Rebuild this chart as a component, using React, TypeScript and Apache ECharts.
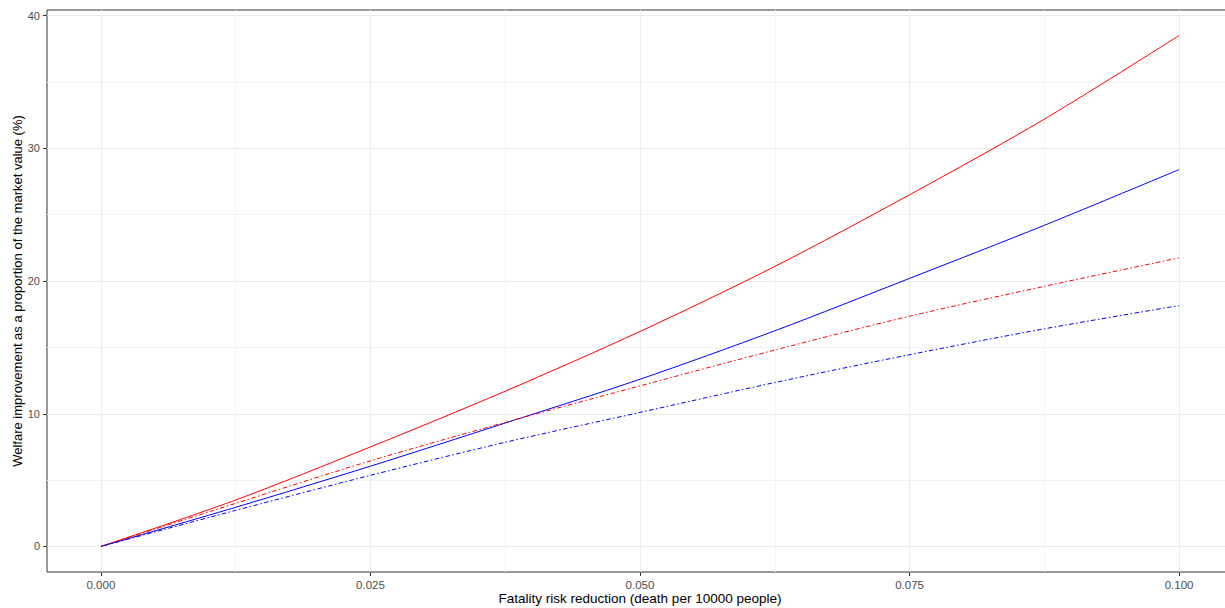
import React, { useEffect, useRef } from "react";
import * as echarts from "echarts";

const xValues = [0, 0.0125, 0.025, 0.0375, 0.05, 0.0625, 0.075, 0.0875, 0.1];
const redSolid = [0, 3.5, 7.5, 11.7, 16.2, 21.1, 26.5, 32.2, 38.5];
const blueSolid = [0, 2.95, 6.05, 9.3, 12.6, 16.25, 20.2, 24.2, 28.4];
const redDashed = [0, 3.25, 6.45, 9.35, 12.1, 14.8, 17.35, 19.6, 21.75];
const blueDashed = [0, 2.72, 5.36, 7.85, 10.1, 12.35, 14.45, 16.4, 18.15];

const xTicks = [0, 0.025, 0.05, 0.075, 0.1];
const xMinorTicks = [0.0125, 0.0375, 0.0625, 0.0875];
const yTicks = [0, 10, 20, 30, 40];
const yMinorTicks = [5, 15, 25, 35];

const xTitle = "Fatality risk reduction (death per 10000 people)";
const yTitle = "Welfare improvement as a proportion of the market value (%)";

const FONT = "'Liberation Sans', Arial, sans-serif";

function pairs(ys: number[]) {
  return xValues.map((x, i) => [x, ys[i]]);
}

export default function App() {
  const ref = useRef<HTMLDivElement>(null);
  useEffect(() => {
    if (!ref.current) return;
    const chart = echarts.init(ref.current, null, { renderer: "svg" });
    const xMin = -0.005;
    const xMax = 0.105;
    const yMin = -1.925;
    const yMax = 40.425;
    const dash = [1.5, 2.5, 4.5, 2.5];
    chart.setOption({
      animation: false,
      backgroundColor: "#ffffff",
      grid: {
        left: 47,
        top: 10,
        width: 1186,
        height: 562,
        show: true,
        borderColor: "#333333",
        borderWidth: 1,
        backgroundColor: "transparent",
        containLabel: false,
        outerBoundsMode: "none",
      },
      xAxis: [
        {
          type: "value",
          min: xMin,
          max: xMax,
          name: xTitle,
          nameLocation: "middle",
          nameGap: 19,
          nameMoveOverlap: false,
          nameTextStyle: { color: "#000000", fontSize: 13.5, fontFamily: FONT, lineHeight: 14 },
          axisLine: { show: false, onZero: false },
          axisTick: { show: true, length: 4, lineStyle: { color: "#333333" }, customValues: xTicks },
          axisLabel: {
            show: true,
            customValues: xTicks,
            margin: 7,
            color: "#4D4D4D",
            fontSize: 11.5,
            lineHeight: 12,
            fontFamily: FONT,
            formatter: (v: number) => v.toFixed(3),
          },
          splitLine: { show: true, lineStyle: { color: "#EBEBEB", width: 1 } },
        },
        {
          type: "value",
          min: xMin,
          max: xMax,
          position: "bottom",
          axisLine: { show: false, onZero: false },
          axisTick: { show: false, customValues: xMinorTicks },
          axisLabel: { show: false, customValues: xMinorTicks },
          splitLine: { show: true, lineStyle: { color: "#F3F3F3", width: 1 } },
        },
      ],
      yAxis: [
        {
          type: "value",
          min: yMin,
          max: yMax,
          name: yTitle,
          nameLocation: "middle",
          nameGap: 23,
          nameMoveOverlap: false,
          nameRotate: 90,
          nameTextStyle: { color: "#000000", fontSize: 13, fontFamily: FONT },
          axisLine: { show: false, onZero: false },
          axisTick: { show: true, length: 4, lineStyle: { color: "#333333" }, customValues: yTicks },
          axisLabel: {
            show: true,
            customValues: yTicks,
            margin: 7,
            color: "#4D4D4D",
            fontSize: 11,
            fontFamily: FONT,
          },
          splitLine: { show: true, lineStyle: { color: "#EBEBEB", width: 1 } },
        },
        {
          type: "value",
          min: yMin,
          max: yMax,
          position: "left",
          axisLine: { show: false, onZero: false },
          axisTick: { show: false, customValues: yMinorTicks },
          axisLabel: { show: false, customValues: yMinorTicks },
          splitLine: { show: true, lineStyle: { color: "#F3F3F3", width: 1 } },
        },
      ],
      series: [
        {
          type: "line",
          data: pairs(redSolid),
          showSymbol: false,
          smooth: 0.3,
          lineStyle: { color: "#FF0000", width: 1 },
        },
        {
          type: "line",
          data: pairs(blueSolid),
          showSymbol: false,
          smooth: 0.3,
          lineStyle: { color: "#0000FF", width: 1 },
        },
        {
          type: "line",
          data: pairs(redDashed),
          showSymbol: false,
          smooth: 0.3,
          lineStyle: { color: "#FF0000", width: 1, type: dash },
        },
        {
          type: "line",
          data: pairs(blueDashed),
          showSymbol: false,
          smooth: 0.3,
          lineStyle: { color: "#0000FF", width: 1, type: dash },
        },
      ],
    });
    return () => chart.dispose();
  }, []);
  return (
    <div
      ref={ref}
      style={{ position: "fixed", left: 0, top: 0, width: 1225, height: 608, background: "#fff" }}
    />
  );
}
